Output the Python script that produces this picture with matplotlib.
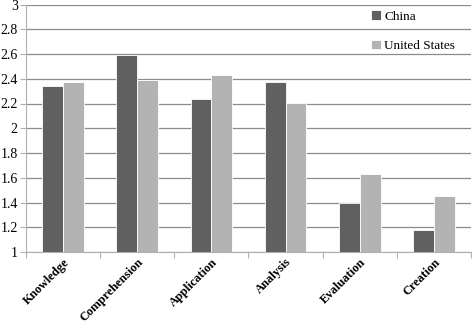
import matplotlib.pyplot as plt
import numpy as np

# Bloom's taxonomy levels and mean scores per country
categories = ['Knowledge', 'Comprehension', 'Application', 'Analysis', 'Evaluation', 'Creation']
china = [2.34, 2.59, 2.24, 2.37, 1.40, 1.18]
united_states = [2.37, 2.39, 2.43, 2.20, 1.63, 1.45]
y_ticks = [1, 1.2, 1.4, 1.6, 1.8, 2, 2.2, 2.4, 2.6, 2.8, 3]

plt.rcParams['font.family'] = ['Liberation Serif', 'DejaVu Serif']

fig = plt.figure(figsize=(4.72, 3.25), dpi=100)
ax = fig.add_axes([26 / 472, 1 - 252 / 325, 445 / 472, 247.5 / 325])

x = np.arange(len(categories))
w = 0.28
ax.bar(x - w / 2, [v - 1 for v in china], w, bottom=1, color='#606060',
       edgecolor='white', linewidth=0.6, label='China', zorder=3)
ax.bar(x + w / 2, [v - 1 for v in united_states], w, bottom=1, color='#b3b3b3',
       edgecolor='white', linewidth=0.6, label='United States', zorder=3)

ax.set_xlim(-0.5, len(categories) - 0.5)
ax.set_ylim(1, 3)
ax.set_yticks(y_ticks)
ax.set_yticklabels(['1', '1.2', '1.4', '1.6', '1.8', '2', '2.2', '2.4', '2.6', '2.8', '3'],
                   fontsize=10)
ax.yaxis.grid(True, color='#8c8c8c', linewidth=0.9, zorder=0)

# category ticks sit between the groups
ax.set_xticks(np.arange(len(categories) + 1) - 0.5)
ax.set_xticklabels([])
ax.set_xticks(x, minor=True)
ax.set_xticklabels(categories, minor=True, rotation=45, ha='right', va='top',
                   rotation_mode='anchor', fontsize=9, fontweight='bold')
ax.tick_params(axis='x', which='minor', length=0, pad=3)
ax.tick_params(axis='x', which='major', length=4, color='#b0b0b0', direction='out')
ax.tick_params(axis='y', length=4, color='#b0b0b0', pad=2)

for side in ['top', 'right']:
    ax.spines[side].set_visible(False)
ax.spines['left'].set_color('#b0b0b0')
ax.spines['bottom'].set_color('#b0b0b0')

ax.legend(loc='upper left', bbox_to_anchor=(366 / 472, 1 - 5 / 325),
          bbox_transform=fig.transFigure, frameon=False, fontsize=9.5,
          handlelength=0.7, handleheight=0.7, handletextpad=0.3,
          labelspacing=1.3, borderaxespad=0)

plt.savefig('out.png')
